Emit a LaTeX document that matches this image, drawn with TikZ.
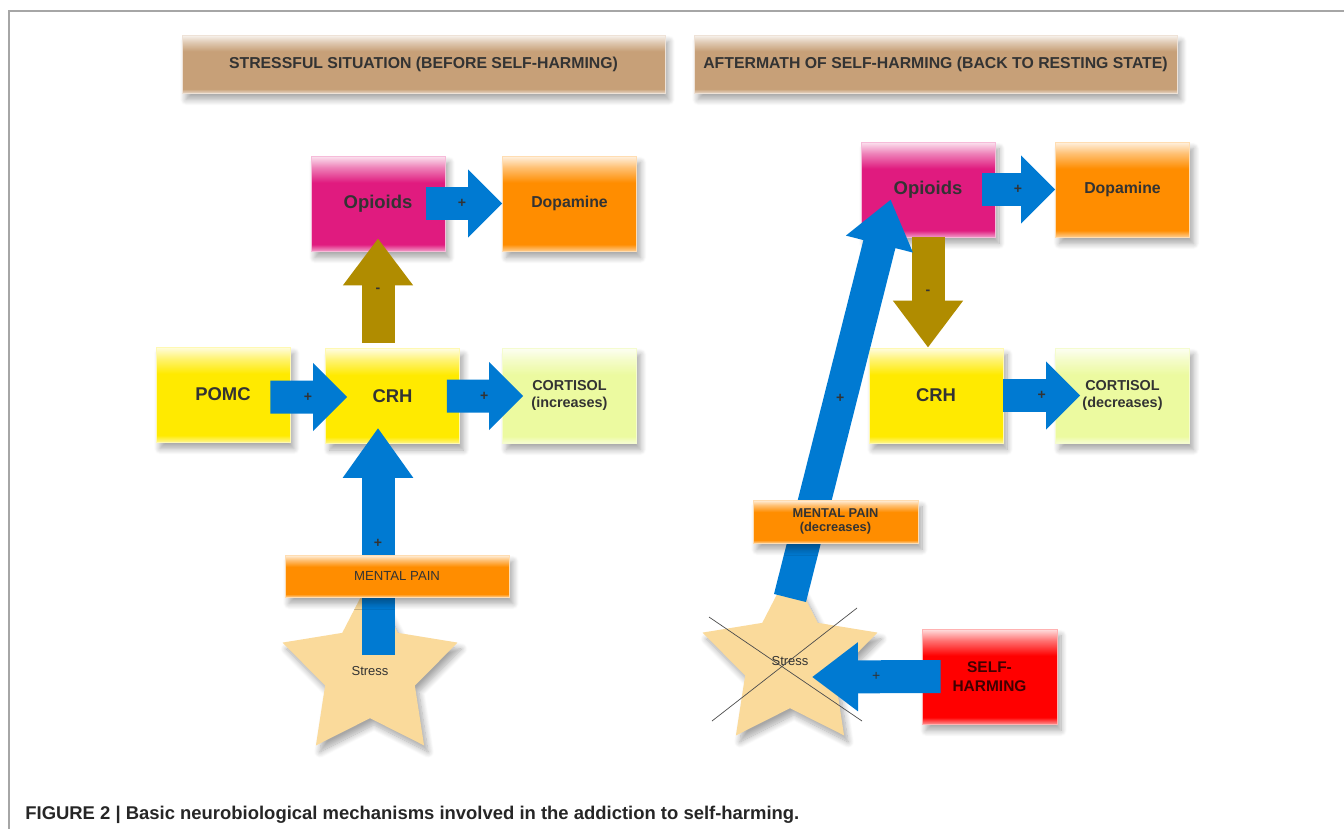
\documentclass[tikz,border=0pt]{standalone}
\usepackage{fontspec}
\setmainfont{Liberation Sans}
\setsansfont{Liberation Sans}
\usepackage{tikz}
\usetikzlibrary{shapes.geometric}
\usetikzlibrary{calc, positioning, shadows, shadows.blur, arrows.meta}

\definecolor{opcol}{RGB}{224,27,127}
\definecolor{dopcol}{RGB}{255,141,0}
\definecolor{crhcol}{RGB}{255,234,0}
\definecolor{cortcol}{RGB}{236,250,160}
\definecolor{hdcol}{RGB}{199,160,120}
\definecolor{shcol}{RGB}{255,0,0}
\definecolor{painblue}{RGB}{0,122,210}
\definecolor{minusbrown}{RGB}{176,140,0}
\definecolor{starcol}{RGB}{250,218,155}
\definecolor{txt}{RGB}{51,51,51}

\newcommand\fsz[2]{\fontsize{#1}{#2}\selectfont}
\newcommand\glossy[2]{\pgfdeclareverticalshading{#1}{100bp}{color(0bp)=(#2!45!white); color(25bp)=(#2!45!white); color(28.5bp)=(#2); color(61bp)=(#2); color(69bp)=(#2!55!white); color(75bp)=(#2!12!white); color(100bp)=(#2!12!white)}}
\glossy{opshade}{opcol}
\glossy{dopshade}{dopcol}
\glossy{crhshade}{crhcol}
\glossy{cortshade}{cortcol}
\glossy{hdshade}{hdcol}
\glossy{shshade}{shcol}

\tikzstyle{soft}=[blur shadow={shadow xshift=0.08cm, shadow yshift=-0.13cm, shadow blur radius=0.12cm, shadow blur steps=10, shadow opacity=35}]
\tikzstyle{box}=[rectangle, minimum width=2.68cm, minimum height=1.9cm, inner sep=1pt, font=\bfseries, text=txt, align=center, soft]
\tikzstyle{plusarr}=[line width=0.66cm, draw=painblue, -{Triangle[length=0.68cm,width=1.32cm]}]
\tikzstyle{minusarr}=[line width=0.66cm, draw=minusbrown, -{Triangle[length=0.94cm,width=1.34cm]}]
\tikzstyle{sgn}=[font=\bfseries\fsz{8}{9}, text=txt, inner sep=0pt]
\tikzstyle{crossline}=[draw=black!70, line width=0.4pt]

\begin{document}
\begin{tikzpicture}[x=0.02cm, y=-0.02cm]
	\useasboundingbox (0,0) rectangle (1344,829);
	\draw[gray!70, line width=0.03cm] (1344,11) -- (9,11) -- (9,829);
	% headers
	\node[box, shading=hdshade, draw=hdcol!30!white, minimum width=9.66cm, minimum height=1.16cm, font=\bfseries\fsz{9}{11}] (h1) at (423.5,64) {STRESSFUL SITUATION (BEFORE SELF-HARMING)};
	\node[box, shading=hdshade, draw=hdcol!30!white, minimum width=9.66cm, minimum height=1.16cm, font=\bfseries\fsz{9}{11}] (h2) at (935.5,64) {AFTERMATH OF SELF-HARMING (BACK TO RESTING STATE)};
	% left: stressful situation
	\node[box, shading=opshade, draw=opcol!30!white, font=\bfseries\fsz{10.5}{12}] (1) at (378,203.5) {Opioids};
	\node[box, shading=dopshade, draw=dopcol!30!white, font=\bfseries\fsz{9}{11}] (2) at (569.5,203.5) {Dopamine};
	\node[box, shading=crhshade, draw=crhcol!30!white, font=\bfseries\fsz{10.5}{12}] (3) at (223,394.5) {POMC};
	\node[box, shading=crhshade, draw=crhcol!30!white, font=\bfseries\fsz{10.5}{12}] (4) at (392.5,396) {CRH};
	\node[box, shading=cortshade, draw=cortcol!50!white, font=\bfseries\fsz{8.2}{9.3}] (5) at (569.5,395.5) {CORTISOL\\(increases)};
	\node[star, star points=5, star point ratio=1.95, minimum size=3.68cm, fill=starcol, font=\fsz{7.4}{9}, text=txt, soft] (7) at (370,671) {Stress};
	% right: aftermath
	\node[box, shading=opshade, draw=opcol!30!white, font=\bfseries\fsz{10.5}{12}] (8) at (928,189.5) {Opioids};
	\node[box, shading=dopshade, draw=dopcol!30!white, font=\bfseries\fsz{9}{11}] (9) at (1122.5,189.5) {Dopamine};
	\node[box, shading=crhshade, draw=crhcol!30!white, font=\bfseries\fsz{10.5}{12}] (10) at (936,395.5) {CRH};
	\node[box, shading=cortshade, draw=cortcol!50!white, font=\bfseries\fsz{8.2}{9.3}] (11) at (1122.5,395.5) {CORTISOL\\(decreases)};
	\node[star, star points=5, star point ratio=1.95, minimum size=3.68cm, fill=starcol, font=\fsz{7.4}{9}, text=txt, soft] (13) at (790,661) {Stress};
	\node[box, shading=shshade, draw=shcol!30!white, minimum width=2.7cm, font=\bfseries\fsz{8.8}{10.6}, text=black!75!red] (14) at (989.5,676.5) {SELF-\\HARMING};
	% arrows left
	\draw[plusarr] ($(1.east)+(-19,0)$) -- (2.west) node[sgn, pos=0.47] {+};
	\draw[minusarr] ($(1.south |- 4.north)+(0,-5)$) -- ($(1.south)+(0,-13)$) node[sgn, pos=0.5] {-};
	\draw[plusarr] ($(3.east)+(-20,2.5)$) -- ($(4.west)+(22,1)$) node[sgn, pos=0.49] {+};
	\draw[plusarr] ($(4.east)+(-13,0)$) -- ($(5.west)+(21,0.5)$) node[sgn, pos=0.49] {+};
	\draw[plusarr, -{Triangle[length=1cm,width=1.34cm]}] ($(1.south |- 7.center)+(0,-16)$) -- ($(1.south |- 4.south)+(0,-16)$) node[sgn, pos=0.49] {+};
	% arrows right
	\draw[plusarr] ($(8.east)+(-13,0)$) -- (9.west) node[sgn, pos=0.49] {+};
	\draw[minusarr] (8.south) -- (8.south |- 10.north) node[sgn, pos=0.5] {-};
	\draw[plusarr] (10.east) -- ($(11.west)+(25,0)$) node[sgn, pos=0.5] {+};
	\draw[plusarr, -{Triangle[length=0.92cm,width=1.32cm]}] ($(13.center)+(0,-63)$) -- ($(8.west)+(30,10)$) node[sgn, pos=0.5] {+};
	\draw[plusarr, -{Triangle[length=0.92cm,width=1.32cm]}] ($(14.west)+(19,0)$) -- ($(13.center)+(22,16)$) node[sgn, font=\fsz{8}{9}, pos=0.5] {+};
	% mental pain on top
	\node[box, shading=dopshade, draw=dopcol!30!white, minimum width=4.48cm, minimum height=0.84cm, font=\fsz{7.5}{9}] (6) at (397,576) {MENTAL PAIN};
	\node[box, shading=dopshade, draw=dopcol!30!white, minimum width=3.3cm, minimum height=0.86cm, font=\bfseries\fsz{7.3}{8.2}] (12) at (835.5,521.5) {MENTAL PAIN\\(decreases)};
	\draw[crossline] ($(13)+(-81,-44)$) -- ($(13)+(72,60)$);
	\draw[crossline] ($(13)+(-78,60)$) -- ($(13)+(67,-53)$);
	% caption
	\node[anchor=base west, inner sep=0pt, font=\bfseries\fsz{10.5}{12}, text=black!85] (15) at (25,819) {FIGURE 2 | Basic neurobiological mechanisms involved in the addiction to self-harming.};
\end{tikzpicture}
\end{document}
